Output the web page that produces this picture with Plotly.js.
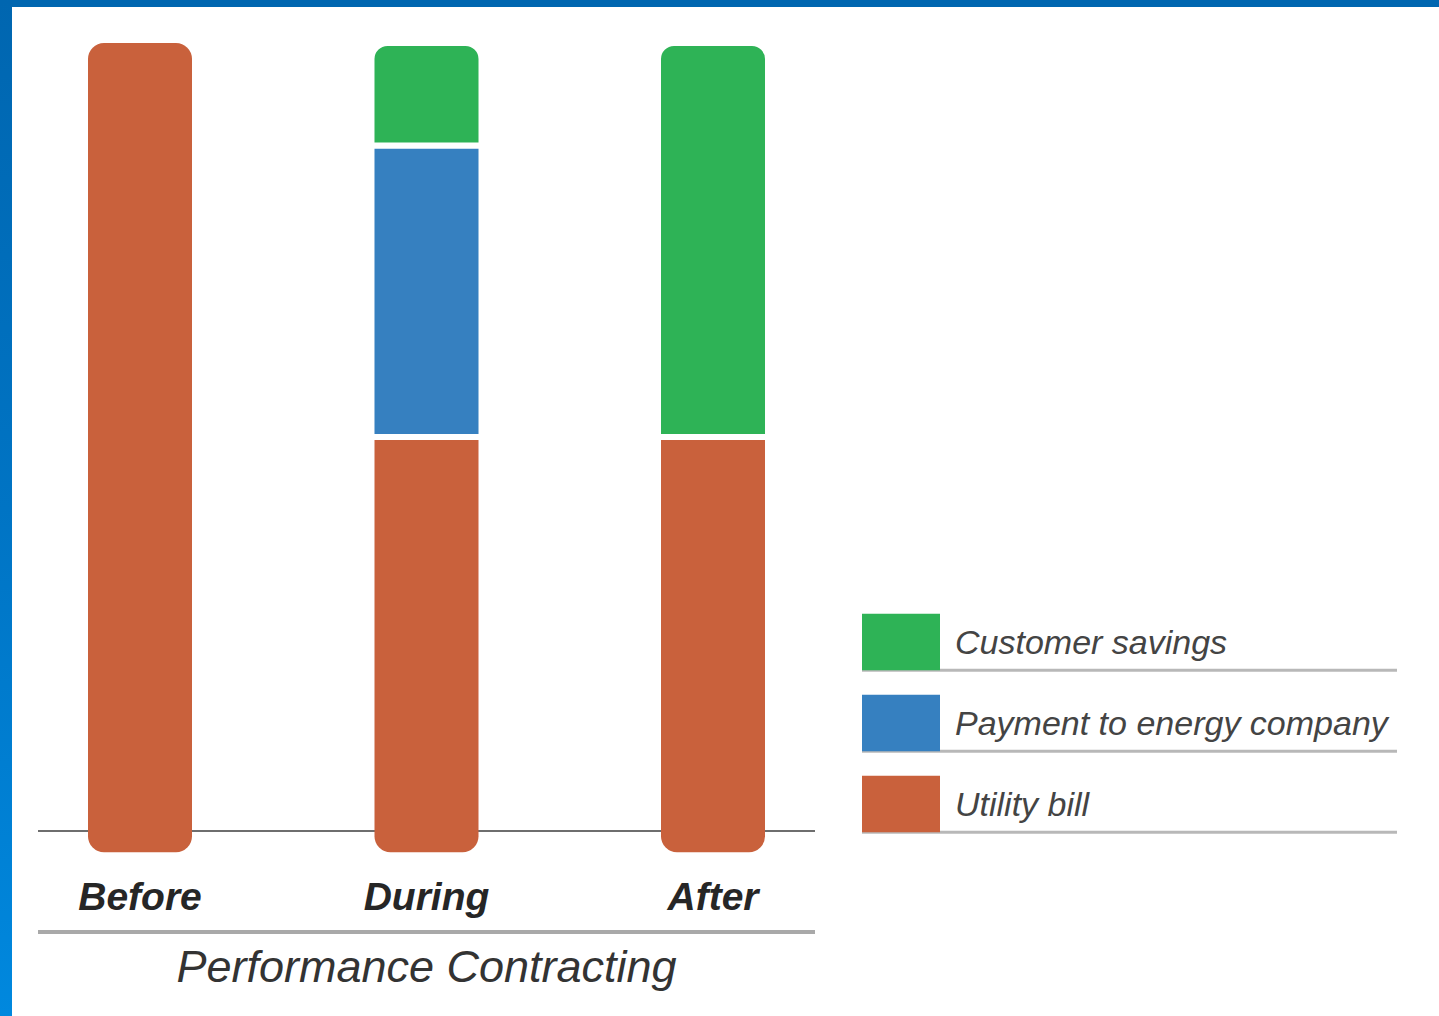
<!DOCTYPE html>
<html>
<head>
<meta charset="utf-8">
<script src="https://cdn.plot.ly/plotly-3.0.1.min.js"></script>
<style>
  html, body { margin: 0; padding: 0; background: #fff; overflow: hidden; }
  #wrap { position: relative; width: 1439px; height: 1016px; }
  #chart { position: absolute; left: 0; top: 0; width: 1439px; height: 1016px; }
  #bTop { position: absolute; left: 0; top: 0; width: 1439px; height: 7px; background: #0066b0; z-index: 5; }
  #bLeft { position: absolute; left: 0; top: 0; width: 12px; height: 1016px; z-index: 5;
           background: linear-gradient(to bottom, #0066b0 0%, #0074c4 50%, #0088de 100%); }
</style>
</head>
<body>
<div id="wrap">
  <div id="chart"></div>
  <div id="bTop"></div>
  <div id="bLeft"></div>
</div>
<script>
// ---- data ----
const stages = ['Before', 'During', 'After'];
const utilityBill = [100, 50, 50];
const paymentToEnergyCompany = [null, 37, null];
const customerSavings = [null, 13, 50];
const baseCap = [-2.7, -2.7, -2.7];   // rounded foot of each bar below the baseline
const seriesNames = ['Utility bill', 'Payment to energy company', 'Customer savings'];
const legendKey = [1, 1, 1];
const axisTitle = 'Performance Contracting';

// ---- styles ----
const cOrange = '#c9613c';
const cBlue = '#3680c0';
const cGreen = '#2eb356';
const seriesColors = [cOrange, cBlue, cGreen];

const W = 1439, H = 1016;
const px = (v) => v / W;
const py = (v) => (H - v) / H;

const barW = 0.384;      // stacked segments drawn with a white 6px outline
const innerW = 0.363;    // segments without outline (same visible width)
const gapLine = { color: '#ffffff', width: 6 };

const traces = [
  { type: 'bar', x: stages, y: utilityBill, name: seriesNames[0], width: innerW,
    marker: { color: cOrange, line: { width: 0 } }, showlegend: false, xaxis: 'x', yaxis: 'y' },
  { type: 'bar', x: stages, y: paymentToEnergyCompany, name: seriesNames[1], width: barW,
    marker: { color: cBlue, line: gapLine }, showlegend: false, xaxis: 'x', yaxis: 'y' },
  { type: 'bar', x: stages, y: customerSavings, name: seriesNames[2], width: barW,
    marker: { color: cGreen, line: gapLine }, showlegend: false, xaxis: 'x', yaxis: 'y' },
  { type: 'bar', x: stages, y: baseCap, name: seriesNames[0], width: innerW,
    marker: { color: cOrange, line: { width: 0 } }, showlegend: false,
    hoverinfo: 'skip', xaxis: 'x', yaxis: 'y' },
  // custom legend keys
  { type: 'bar', orientation: 'h', x: legendKey, y: seriesNames, width: 0.7,
    marker: { color: seriesColors, cornerradius: 0, line: { width: 0 } }, showlegend: false, hoverinfo: 'skip',
    xaxis: 'x2', yaxis: 'y2' }
];

const shapes = [
  { type: 'line', xref: 'x domain', yref: 'paper', x0: 0, x1: 1, y0: py(932), y1: py(932),
    line: { color: '#a9a9a9', width: 4 } }
];
seriesNames.forEach((n, i) => {
  shapes.push({ type: 'line', xref: 'paper', yref: 'y2', x0: px(862), x1: px(1397),
    y0: i - 0.35, y1: i - 0.35, line: { color: '#b8b8b8', width: 3 }, layer: 'below' });
});

const layout = {
  width: W, height: H,
  margin: { l: 0, r: 0, t: 0, b: 0, pad: 0 },
  paper_bgcolor: '#ffffff', plot_bgcolor: 'rgba(0,0,0,0)',
  barmode: 'relative',
  barcornerradius: 16,
  showlegend: false,
  font: { family: 'Liberation Sans, Arial, sans-serif', color: '#333' },
  xaxis: {
    domain: [px(38), px(815)], range: [-0.356, 2.356], type: 'category',
    showgrid: false, zeroline: false, showline: false, ticks: '',
    tickfont: { family: 'Liberation Sans, Arial, sans-serif', size: 39, color: '#262626',
                weight: 'bold', style: 'italic' },
    ticklabelstandoff: 0,
    title: { text: axisTitle, standoff: 33,
             font: { family: 'Liberation Sans, Arial, sans-serif', size: 45, color: '#333', style: 'italic' } },
    fixedrange: true
  },
  yaxis: {
    domain: [py(870), py(35)], range: [-4.95, 101.02],
    showgrid: false, showticklabels: false, ticks: '', showline: false,
    zeroline: true, zerolinecolor: '#6e6e6e', zerolinewidth: 1.5, fixedrange: true
  },
  xaxis2: {
    domain: [px(862), px(940)], range: [0, 1], anchor: 'y2', visible: false, fixedrange: true
  },
  yaxis2: {
    domain: [py(844.5), py(601.5)], range: [-0.5, 2.5], anchor: 'x2', side: 'right',
    type: 'category', categoryorder: 'array', categoryarray: seriesNames,
    showgrid: false, zeroline: false, showline: false, ticks: '', ticklabelstandoff: 14,
    tickfont: { family: 'Liberation Sans, Arial, sans-serif', size: 34, color: '#444', style: 'italic' },
    fixedrange: true
  },
  shapes: shapes
};

Plotly.newPlot('chart', traces, layout, { displayModeBar: false, staticPlot: true });
</script>
</body>
</html>
